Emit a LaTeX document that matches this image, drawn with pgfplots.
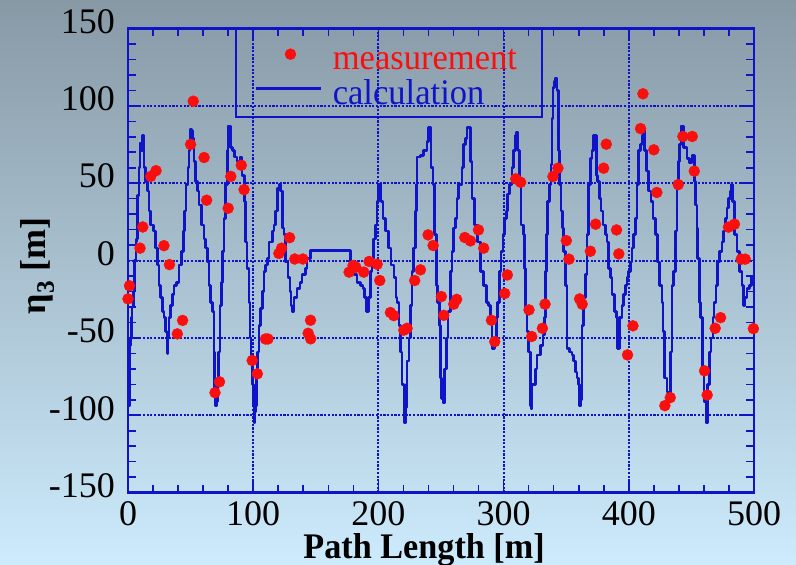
\documentclass[border=0pt]{standalone}
\usepackage{fontspec}
\setmainfont{Liberation Serif}
\usepackage{graphicx}
\usepackage{pgfplots}
\usepackage{pgfplotstable}
\pgfplotsset{compat=1.18}

\definecolor{lineblue}{RGB}{15,20,200}
\definecolor{dotred}{RGB}{250,15,15}
\definecolor{bgtop}{RGB}{136,153,166}
\definecolor{bgbottom}{RGB}{204,235,252}

% legend symbols; the invisible point keeps their height fixed against the text
\pgfplotsset{
  linelegend/.style={legend image code/.code={\path (0bp,0bp); \draw[##1] (0bp,4bp) -- (65bp,4bp);}},
  dotlegend/.style={legend image code/.code={\path (0bp,0bp); \draw[mark repeat=2, mark phase=2, ##1] plot coordinates {(0bp,6bp) (34bp,6bp) (68bp,6bp)};}},
}

% measured dispersion along the path
\pgfplotstableread{
x y
0.0 -24.8
1.2 -16.3
9.6 8.0
11.8 21.7
18.1 54.4
22.4 58.1
28.7 9.6
33.1 -2.6
39.4 -47.4
43.6 -38.7
50.0 75.1
52.1 103.0
60.8 66.6
62.8 39.0
69.5 -85.4
73.1 -78.4
80.0 33.8
82.1 54.4
90.5 61.6
92.7 45.8
99.2 -64.6
103.3 -73.2
109.8 -50.7
111.8 -50.7
120.5 4.6
122.7 8.0
129.1 14.8
133.2 1.0
139.7 1.0
143.9 -47.0
145.8 -38.6
145.9 -50.6
176.6 -7.5
179.8 -3.2
182.0 -4.3
188.3 -7.5
192.6 -0.6
199.0 -2.4
201.1 -12.9
209.6 -33.6
212.3 -35.6
220.3 -45.0
222.9 -43.8
229.0 -12.9
233.6 -6.0
239.7 16.6
243.7 9.7
250.3 -23.3
252.2 -35.4
260.2 -28.2
262.5 -25.1
269.0 14.9
273.5 12.7
279.9 19.8
284.1 8.0
290.3 -38.6
292.9 -52.4
300.9 -21.3
303.0 -9.3
309.7 52.8
313.6 50.6
320.3 -31.9
322.4 -49.1
331.0 -43.8
333.1 -28.2
339.4 54.3
343.4 59.7
350.1 12.9
352.2 0.9
360.7 -24.8
362.8 -28.2
369.3 6.0
373.5 23.5
379.9 59.7
382.0 75.2
390.2 19.8
392.0 4.3
399.0 -61.0
403.3 -42.2
409.4 85.3
411.3 107.8
420.0 71.6
422.4 44.0
428.8 -93.8
433.1 -88.6
439.5 49.1
443.2 80.2
450.7 80.2
452.3 57.8
460.5 -71.3
462.6 -86.9
469.0 -43.8
473.3 -36.9
479.6 21.6
484.4 23.5
489.8 0.9
493.0 0.9
499.5 -44.0
}\measured

% calculated dispersion along the path
\pgfplotstableread{
x y
0.0 -60
0.3 -90
0.7 -70
1.0 -94
1.3 -75
1.6 -55
2.2 -50
2.7 -37
3.2 -30
4.3 -20
5.3 0
6.4 12
7.0 14
7.5 42
8.8 60
9.6 76
10.6 71
11.4 81
12.0 81
12.8 60
14.1 51
15.4 45
16.8 32
18.1 23
20.2 19
22.1 8
23.4 -3
24.7 -16
26.1 -24
27.4 -33
28.7 -37
30.1 -46
31.0 -57
31.4 -60
32.0 -50
32.7 -37
34.0 -29
35.4 -22
36.7 -16
38.8 -14
40.7 -3
42.6 6
44.2 19
45.2 32
46.3 49
47.9 60
48.7 71
49.6 78
50.0 85
50.6 84
51.3 79
52.7 64
54.0 51
55.3 45
56.7 36
58.5 23
60.7 14
62.0 8
63.3 -1
64.6 -16
66.0 -27
67.3 -33
68.6 -59
69.2 -87
70.0 -94
70.8 -91
71.3 -80
72.4 -59
73.4 -29
74.5 -14
75.3 6
76.6 27
78.0 49
79.3 71
79.8 87
80.6 87
81.9 73
83.3 71
85.1 67
87.2 64
89.4 67
90.2 67
91.2 55
93.1 38
93.9 12
95.2 -5
96.6 -27
97.4 -50
98.4 -63
99.5 -80
100.0 -94
100.6 -105
101.2 -98
101.9 -94
102.7 -76
103.2 -59
104.6 -42
105.9 -31
107.2 -20
108.5 -7
109.9 -3
111.2 1.5
112.5 12
115.2 19
116.5 23
117.9 32
119.2 47
120.5 49
121.8 45
123.2 21
124.5 17
125.8 -1
127.7 -11
129.3 -20
130.3 -29
131.1 -33
132.5 -24
135.1 -18
137.3 -14
139.1 -9
142.0 -5
143.1 1.5
145.8 6.5
175.0 6.5
177.7 -3
180.4 -9
183.0 -14
185.7 -16
187.8 -18
189.1 -24
190.5 -33
192.3 -24
193.7 -7
195.0 1.5
196.3 14
197.7 23
199.0 38
200.3 49
201.1 49
202.2 38
203.8 27
205.6 19
208.3 8
210.1 -3
212.3 -11
213.9 -24
214.9 -27
216.3 -42
217.6 -59
218.9 -80
220.3 -87
220.8 -105
221.5 -95
222.4 -80
222.9 -65
224.3 -50
225.6 -29
226.9 -7
228.2 8
229.6 32
230.4 49
230.9 67
233.6 68
236.2 71
238.9 77
240.2 86
241.0 86
242.1 60
243.7 49
244.7 17
246.3 -16
247.4 -27
248.7 -42
249.5 -76
250.3 -89
251.6 -92
253.0 -70
254.3 -50
255.6 -33
257.5 -7
258.8 6
260.1 21
261.5 27
262.8 40
264.1 49
266.8 60
268.1 75
269.5 79
270.8 86
271.3 86
273.5 64
274.8 40
276.7 23
279.3 12
281.5 -7
284.1 -16
286.2 -27
288.1 -29
289.4 -37
290.8 -57
291.3 -57
292.6 -50
294.2 -37
295.3 -27
296.9 -7
298.0 6
299.5 17
300.6 27
302.2 32
303.3 43
304.9 49
306.7 60
308.1 71
309.4 81
310.2 83
311.5 71
312.8 49
313.9 23
316.0 17
316.6 -5
317.4 -33
318.7 -46
320.0 -59
321.4 -94
321.9 -96
322.7 -80
325.4 -70
326.7 -61
329.3 -55
331.5 -48
332.5 -37
333.3 -7
334.1 17
335.2 38
336.8 49
337.8 62
338.6 92
339.4 112
340.5 116
341.6 118
342.6 110
343.9 71
344.8 49
345.8 32
346.9 21
348.0 6
349.3 -16
350.6 -57
352.8 -59
354.6 -61
356.0 -65
357.3 -72
358.6 -76
359.9 -80
360.7 -94
361.8 -90
362.6 -42
363.9 -24
365.3 -9
366.6 17
367.9 49
369.3 66
370.6 71
371.9 81
372.7 81
374.1 55
375.1 51
376.7 40
377.8 32
379.4 23
381.2 17
382.5 12
383.9 -5
385.2 -11
386.5 -22
388.4 -33
390.0 -37
391.1 -57
392.7 -37
394.5 -29
395.8 -22
397.2 -16
398.5 -11
399.8 -7
401.2 -1
402.5 8
403.8 17
405.2 27
406.5 49
407.8 71
409.2 75
410.5 81
411.3 84
412.4 71
414.0 58
415.8 45
417.7 38
419.3 27
421.2 17
423.0 -1
424.6 -16
426.5 -27
427.3 -46
428.4 -76
429.1 -76
430.4 -85
431.8 -89
433.1 -59
434.4 -16
435.7 -7
437.1 19
438.4 49
439.7 64
440.5 75
441.6 87
443.7 73
446.4 66
448.5 63
450.4 68
451.2 68
452.5 51
453.3 36
454.4 21
454.9 1.5
456.5 -27
457.5 -37
459.1 -70
460.2 -91
461.8 -105
462.9 -80
464.5 -59
465.5 -50
467.1 -37
468.2 -27
469.8 -16
470.9 -1
472.5 6
474.3 12
475.7 19
477.0 27
478.3 34
479.6 40
481.0 45
481.8 49
482.8 38
484.2 17
486.3 6
488.4 -7
490.3 -16
491.6 -29
492.9 -24
494.3 -18
496.4 -16
498.2 -11
500.0 -9
}\calculated

\newcommand{\bigfont}{\fontsize{36bp}{36bp}\selectfont}

\begin{document}
\begin{tikzpicture}
\path[use as bounding box] (0,0) rectangle (796bp,565bp);
\shade[top color=bgtop, bottom color=bgbottom] (0,0) rectangle (796bp,565bp);
\begin{axis}[
  at={(128bp,72.4bp)}, anchor=south west,
  scale only axis, width=626bp, height=464.1bp,
  xmin=0, xmax=500, ymin=-150, ymax=150,
  xtick={0,100,...,500}, ytick={-150,-100,...,150},
  xticklabels={0,100,200,300,400,500},
  yticklabels={-150,-100,-50,0,50,100,150},
  minor x tick num=4, minor y tick num=4,
  tick align=inside, major tick length=13bp, minor tick length=8bp,
  tick style={lineblue, line width=1.6bp},
  axis line style={lineblue, line width=2.8bp},
  grid=major,
  major grid style={lineblue, line width=2bp, dash pattern=on 2.2bp off 1.5bp},
  tick label style={font=\bigfont, inner sep=0pt},
  yticklabel style={anchor=east, xshift=-13bp, yshift=7bp},
  xticklabel style={anchor=north, yshift=-9bp},
  xlabel={\scalebox{0.95}[1]{\bfseries Path Length [m]}},
  ylabel={\bfseries η\textsubscript{3} [m]},
  xlabel style={at={(axis description cs:0.28,-0.1425)}, anchor=base west, font=\bigfont, inner sep=0pt},
  ylabel style={at={(axis description cs:-0.1446,0.488)}, anchor=center, font=\bigfont, inner sep=0pt},
  legend style={at={(axis description cs:0.1725,1)}, anchor=north west,
    draw=none, fill=none, inner xsep=19bp, inner ysep=20bp, font=\bigfont,
    nodes={inner sep=0pt}, row sep=8bp,
    /tikz/every odd column/.append style={column sep=10bp}},
  legend cell align=left,
  reverse legend,
]
\addplot[const plot, lineblue, line width=2.6bp, line join=round, linelegend]
  table[x=x, y=y] {\calculated};
\addlegendentry{\scalebox{0.96}[1]{\textcolor{lineblue}{calculation}}}
\addplot[only marks, mark=*, mark size=5.5bp, draw=dotred, fill=dotred, dotlegend]
  table[x=x, y=y] {\measured};
\addlegendentry{\scalebox{0.96}[1]{\textcolor{dotred}{measurement}}}
\draw[lineblue, line width=2bp] (axis cs:86.2,92.5) rectangle (axis cs:330.4,150);
\end{axis}
\end{tikzpicture}
\end{document}
